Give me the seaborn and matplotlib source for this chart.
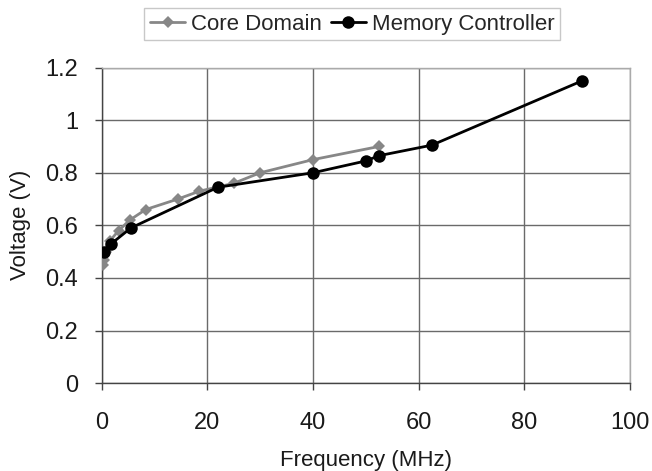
import matplotlib
matplotlib.use("Agg")
import matplotlib.pyplot as plt
import seaborn as sns
import pandas as pd

core_x = [0.2, 0.4, 0.8, 1.5, 3.2, 5.3, 8.3, 14.4, 18.5, 25.0, 30.0, 40.0, 52.5]
core_y = [0.45, 0.47, 0.50, 0.54, 0.58, 0.62, 0.66, 0.70, 0.73, 0.76, 0.80, 0.85, 0.90]
mem_x = [0.4, 1.8, 5.5, 22.0, 40.0, 50.0, 52.5, 62.5, 91.0]
mem_y = [0.50, 0.53, 0.59, 0.745, 0.80, 0.845, 0.865, 0.905, 1.15]
x_ticks = [0, 20, 40, 60, 80, 100]
y_ticks = [0, 0.2, 0.4, 0.6, 0.8, 1.0, 1.2]
y_labels = ["0", "0.2", "0.4", "0.6", "0.8", "1", "1.2"]

sns.set_style("white")
plt.rcParams['font.family'] = ['Liberation Sans', 'DejaVu Sans']

df_core = pd.DataFrame({"x": core_x, "y": core_y})
df_mem = pd.DataFrame({"x": mem_x, "y": mem_y})

fig = plt.figure(figsize=(6.52, 4.71), dpi=100)
ax = fig.add_axes([0.156, 0.1865, 0.810, 0.670])

sns.lineplot(data=df_core, x="x", y="y", ax=ax, sort=False, color="#878787",
             marker="D", markersize=6, markeredgewidth=0, linewidth=2,
             label="Core Domain", zorder=3)
sns.lineplot(data=df_mem, x="x", y="y", ax=ax, sort=False, color="black",
             marker="o", markersize=9, markeredgewidth=0, linewidth=2,
             label="Memory Controller", zorder=4)

ax.set_xlim(0, 100)
ax.set_ylim(0, 1.2)
ax.set_xticks(x_ticks)
ax.set_yticks(y_ticks)
ax.set_yticklabels(y_labels)
ax.grid(True, color="#6a6a6a", linewidth=1)
ax.set_axisbelow(True)
for s in ["left", "bottom"]:
    ax.spines[s].set_color("#444444")
    ax.spines[s].set_linewidth(1)
for s in ["top", "right"]:
    ax.spines[s].set_color("#aaaaaa")
    ax.spines[s].set_linewidth(1)
ax.tick_params(axis="both", direction="out", length=5, width=1, color="#444444",
               labelsize=17, left=True, bottom=True, labelcolor="#1a1a1a")
ax.tick_params(axis="x", pad=16)
ax.tick_params(axis="y", pad=12)
ax.set_xlabel("Frequency (MHz)", fontsize=16, labelpad=11, color="#1a1a1a")
ax.set_ylabel("Voltage (V)", fontsize=16, labelpad=10, color="#1a1a1a")

ax.legend(loc="center", bbox_to_anchor=(0.54, 0.949), bbox_transform=fig.transFigure,
          ncol=2, frameon=True, fontsize=16, handlelength=1.6, handletextpad=0.25,
          columnspacing=0.4, borderpad=0.25, fancybox=False, edgecolor="#bbbbbb")

fig.savefig("out.png", dpi=100)
